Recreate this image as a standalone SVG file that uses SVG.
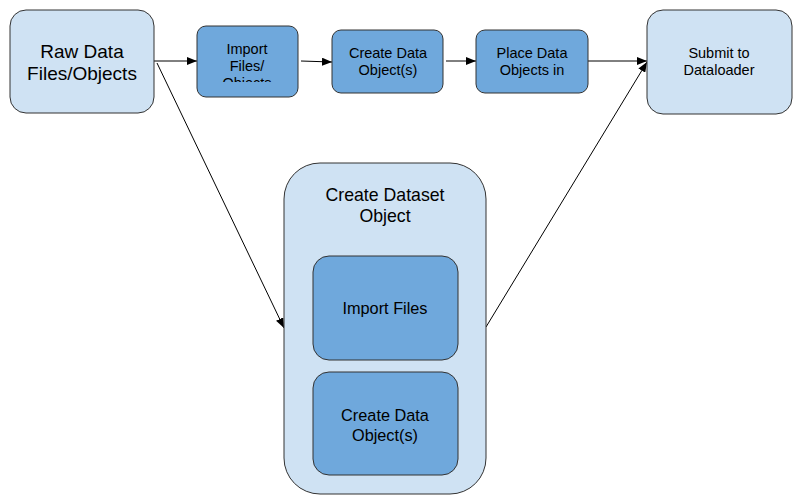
<svg xmlns="http://www.w3.org/2000/svg" width="800" height="502" viewBox="0 0 800 502">
<style>
.light{fill:#cfe2f3;stroke:#333;stroke-width:1}
.mid{fill:#6fa8dc;stroke:#333;stroke-width:1}
text{font-family:"Liberation Sans",Arial,sans-serif;fill:#000;text-anchor:middle}
.conn line{stroke:#000;stroke-width:1;marker-end:url(#ah)}
</style>
<defs>
<marker id="ah" markerWidth="10" markerHeight="8" refX="10" refY="4" orient="auto" markerUnits="userSpaceOnUse">
<path d="M0,0 L10,4 L0,8 Z" fill="#000"/>
</marker>
<clipPath id="clipImp"><rect x="197" y="26" width="102" height="56"/></clipPath>
</defs>
<rect width="800" height="502" fill="#fff"/>
<g class="conn">
<line x1="154" y1="61" x2="197" y2="61"/>
<line x1="301" y1="61" x2="332" y2="62"/>
<line x1="446" y1="61" x2="476" y2="61"/>
<line x1="588" y1="61" x2="647" y2="61"/>
<line x1="157" y1="63" x2="284" y2="328"/>
<line x1="486" y1="327" x2="647" y2="62"/>
</g>
<g id="raw">
<rect class="light" x="10" y="10" width="144" height="103" rx="16"/>
<text x="82" y="58" font-size="19">Raw Data</text>
<text x="82" y="80" font-size="19">Files/Objects</text>
</g>
<g id="import">
<rect class="mid" x="197" y="26" width="101" height="71" rx="9"/>
<g clip-path="url(#clipImp)">
<text x="247" y="54" font-size="14.5">Import</text>
<text x="247" y="71" font-size="14.5">Files/</text>
<text x="247" y="88" font-size="14.5">Objects</text>
</g>
</g>
<g id="create">
<rect class="mid" x="332" y="30" width="111" height="63" rx="9"/>
<text x="388" y="58" font-size="14.5">Create Data</text>
<text x="388" y="75" font-size="14.5">Object(s)</text>
</g>
<g id="place">
<rect class="mid" x="476" y="30" width="112" height="63" rx="9"/>
<text x="532" y="58" font-size="14.5">Place Data</text>
<text x="532" y="75" font-size="14.5">Objects in</text>
</g>
<g id="submit">
<rect class="light" x="647" y="10" width="145" height="104" rx="16"/>
<text x="719" y="58" font-size="14.5">Submit to</text>
<text x="719" y="75" font-size="14.5">Dataloader</text>
</g>
<g id="dataset">
<rect class="light" x="284" y="163" width="202" height="331" rx="36"/>
<text x="385" y="201" font-size="17.7">Create Dataset</text>
<text x="385" y="222" font-size="17.7">Object</text>
</g>
<g id="importFiles">
<rect class="mid" x="313" y="256" width="145" height="104" rx="16"/>
<text x="385" y="314" font-size="16.3">Import Files</text>
</g>
<g id="createInner">
<rect class="mid" x="313" y="372" width="145" height="103" rx="16"/>
<text x="385" y="421" font-size="16.3">Create Data</text>
<text x="385" y="441" font-size="16.3">Object(s)</text>
</g>
</svg>
